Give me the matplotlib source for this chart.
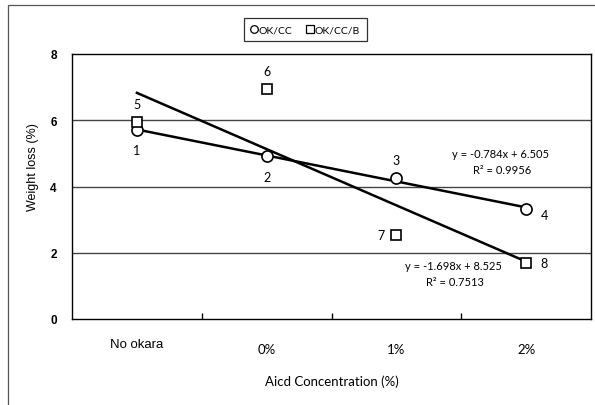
import matplotlib
matplotlib.use("Agg")
import matplotlib.pyplot as plt
from matplotlib.patches import Rectangle
from matplotlib.lines import Line2D
import numpy as np

categories = ["No okara", "0%", "1%", "2%"]
okcc = [5.70, 4.93, 4.25, 3.32]
okccb = [5.96, 6.93, 2.55, 1.69]
okcc_labels = ["1", "2", "3", "4"]
okccb_labels = ["5", "6", "7", "8"]
slope1, icpt1, r2_1 = -0.784, 6.505, 0.9956
slope2, icpt2, r2_2 = -1.698, 8.525, 0.7513

W, H = 595, 406
fig = plt.figure(figsize=(W / 100, H / 100), dpi=100)
ax = fig.add_axes([72 / W, 1 - 320 / H, (591 - 72) / W, (320 - 55) / H])

x = np.arange(1, len(categories) + 1)

# gridlines
for yv in [2, 4, 6]:
    ax.axhline(yv, color="#444444", lw=1.0, zorder=1)

# trend lines
ax.plot(x[[0, -1]], slope1 * x[[0, -1]] + icpt1, color="black", lw=1.8, zorder=2)
ax.plot(x[[0, -1]], slope2 * x[[0, -1]] + icpt2, color="black", lw=1.8, zorder=2)

ax.plot(x, okcc, ls="none", marker="o", ms=8, mfc="white", mec="black", mew=1.2, zorder=3)
ax.plot(x, okccb, ls="none", marker="s", ms=7.5, mfc="white", mec="black", mew=1.2, zorder=3)

ax.set_xlim(0.5, 4.5)
ax.set_ylim(0, 8)
ax.set_yticks([0, 2, 4, 6, 8])
ax.set_yticklabels(["0", "2", "4", "6", "8"], fontsize=8.5, fontweight="bold",
                   family="Liberation Sans")
ax.tick_params(axis="y", length=0, pad=11)
ax.set_xticks([])
ax.set_xticks([1.5, 2.5, 3.5], minor=True)
ax.tick_params(axis="x", which="minor", direction="in", length=4, width=1, color="black")
for s in ax.spines.values():
    s.set_color("black")
    s.set_linewidth(1.0)

tf = ax.get_xaxis_transform()
cat_y = [-0.094, -0.113, -0.113, -0.113]
cat_fam = ["Liberation Sans", "Lato", "Lato", "Lato"]
for xi, lab, yy, fam in zip(x, categories, cat_y, cat_fam):
    ax.text(xi, yy, lab, transform=tf, ha="center", va="center", fontsize=9.5,
            family=fam)

ax.text(2.5, -0.234, "Aicd Concentration (%)", transform=tf, ha="center",
        va="center", fontsize=9.5, family="Lato")
fig.text(33 / W, 1 - 167 / H, "Weight loss (%)", rotation=90, ha="center",
         va="center", fontsize=9, family="Liberation Sans")

# point labels (offsets in points)
offs1 = [(0, -14), (0, -15), (0, 13), (13, -4)]
offs2 = [(0, 13), (0, 13), (-11, 0), (13, 0)]
for xi, yi, lab, o in zip(x, okcc, okcc_labels, offs1):
    ax.annotate(lab, (xi, yi), xytext=o, textcoords="offset points", ha="center",
                va="center", fontsize=9, family="Lato")
for xi, yi, lab, o in zip(x, okccb, okccb_labels, offs2):
    ax.annotate(lab, (xi, yi), xytext=o, textcoords="offset points", ha="center",
                va="center", fontsize=9, family="Lato")

def dtop(px, py):
    return ((px - 72) / (591 - 72), (320 - py) / (320 - 55))

ax.text(*dtop(500, 155), f"y = {slope1}x + {icpt1}", transform=ax.transAxes,
        ha="center", va="center", fontsize=8, family="Lato")
ax.text(*dtop(502, 171), f"R² = {r2_1}", transform=ax.transAxes,
        ha="center", va="center", fontsize=8, family="Lato")
ax.text(*dtop(453, 267), f"y = {slope2}x + {icpt2}", transform=ax.transAxes,
        ha="center", va="center", fontsize=8, family="Lato")
ax.text(*dtop(455, 282), f"R² = {r2_2}", transform=ax.transAxes,
        ha="center", va="center", fontsize=8, family="Lato")

# legend
handles = [Line2D([], [], ls="none", marker="o", ms=5.5, mfc="white", mec="black", mew=0.9),
           Line2D([], [], ls="none", marker="s", ms=5.5, mfc="white", mec="black", mew=0.9)]
leg = fig.legend(handles, ["OK/CC", "OK/CC/B"], loc="center",
                 bbox_to_anchor=(305.5 / W, 1 - 30.5 / H), ncol=2, frameon=True,
                 fancybox=False, edgecolor="black", handlelength=0.6,
                 handletextpad=0.15, columnspacing=1.4, borderpad=0.7,
                 prop={"family": "Lato", "size": 7.5})
leg.get_frame().set_linewidth(0.9)

# outer chart border
fig.patches.append(Rectangle((8 / W, -0.05), 1.2, 1 - 6 / H + 0.05, transform=fig.transFigure,
                             fill=False, edgecolor="#555555", lw=0.9))

fig.savefig("out.png", dpi=100)
